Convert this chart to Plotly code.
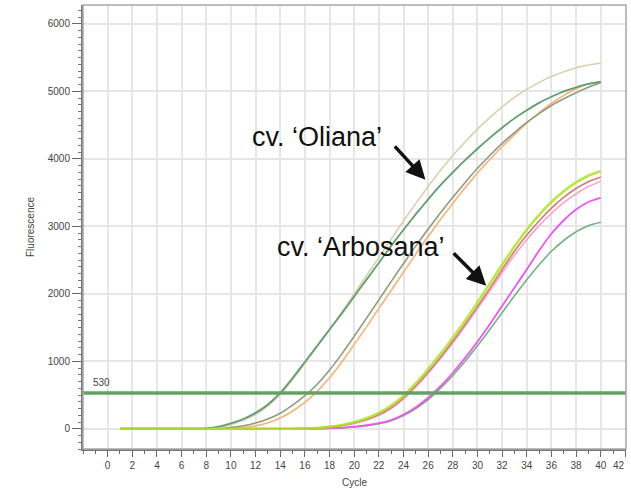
import plotly.graph_objects as go

cycles = list(range(1, 41))

oliana_beige = [0, 0, 0, 0, 0, 0, 0, 0, 15, 60, 125, 210, 340, 510, 730, 970, 1220, 1470, 1730, 2000,
                2270, 2540, 2810, 3080, 3340, 3590, 3830, 4050, 4250, 4440, 4610, 4770, 4910, 5030, 5130, 5220, 5290, 5350, 5390, 5420]
oliana_dkgreen = [0, 0, 0, 0, 0, 0, 0, 5, 30, 80, 145, 235, 360, 530, 750, 990, 1230, 1470, 1710, 1960,
                  2210, 2460, 2710, 2950, 3180, 3400, 3610, 3800, 3980, 4150, 4310, 4460, 4600, 4720, 4830, 4920, 5000, 5060, 5110, 5140]
oliana_graygreen = [0, 0, 0, 0, 0, 0, 0, 0, 0, 20, 45, 85, 145, 230, 350, 490, 660, 870, 1110, 1370,
                    1640, 1910, 2180, 2450, 2710, 2960, 3200, 3430, 3650, 3860, 4050, 4230, 4390, 4540, 4670, 4790, 4890, 4980, 5060, 5130]
oliana_orange = [0, 0, 0, 0, 0, 0, 0, 0, 0, 5, 20, 45, 90, 160, 260, 390, 555, 755, 990, 1250,
                 1510, 1780, 2050, 2320, 2590, 2850, 3100, 3340, 3570, 3790, 3990, 4180, 4360, 4530, 4680, 4820, 4940, 5040, 5110, 5150]

arbo_lime = [0, 0, 0, 0, 0, 0, 0, 0, 0, 0, 0, 0, 0, 0, 0, 5, 12, 28, 55, 95,
             155, 235, 345, 490, 675, 885, 1110, 1350, 1600, 1870, 2150, 2430, 2700, 2950, 3170, 3360, 3520, 3650, 3750, 3820]
arbo_red = [0, 0, 0, 0, 0, 0, 0, 0, 0, 0, 0, 0, 0, 0, 0, 3, 10, 24, 48, 85,
            138, 212, 315, 460, 640, 840, 1060, 1300, 1550, 1810, 2080, 2360, 2630, 2870, 3080, 3270, 3430, 3560, 3660, 3730]
arbo_pink = [0, 0, 0, 0, 0, 0, 0, 0, 0, 0, 0, 0, 0, 0, 0, 3, 9, 22, 45, 80,
             130, 200, 300, 440, 620, 820, 1040, 1270, 1520, 1780, 2040, 2310, 2570, 2800, 3010, 3190, 3350, 3480, 3590, 3670]
arbo_magenta = [0, 0, 0, 0, 0, 0, 0, 0, 0, 0, 0, 0, 0, 0, 0, 0, 3, 8, 18, 32,
                52, 82, 130, 210, 320, 460, 630, 830, 1050, 1290, 1550, 1820, 2090, 2360, 2640, 2890, 3090, 3250, 3360, 3420]
arbo_green = [0, 0, 0, 0, 0, 0, 0, 0, 0, 0, 0, 0, 0, 0, 0, 0, 0, 5, 12, 25,
              45, 75, 120, 195, 300, 430, 600, 790, 1000, 1230, 1470, 1720, 1970, 2210, 2430, 2630, 2790, 2920, 3010, 3060]

threshold = 530
x_ticks = list(range(0, 43, 2))
y_ticks = [0, 1000, 2000, 3000, 4000, 5000, 6000]

series = [
    ("Arbosana green", arbo_green, "#72b283", 1.6),
    ("Arbosana magenta", arbo_magenta, "#ee55ee", 1.8),
    ("Arbosana pink", arbo_pink, "#f2a6c8", 1.6),
    ("Arbosana red", arbo_red, "#d9787a", 1.6),
    ("Oliana orange", oliana_orange, "#f8b274", 1.6),
    ("Oliana gray-green", oliana_graygreen, "#8e9c82", 1.6),
    ("Oliana beige", oliana_beige, "#d9d0aa", 1.6),
    ("Oliana dark green", oliana_dkgreen, "#5f9e6f", 1.8),
    ("Arbosana lime", arbo_lime, "rgba(172,228,30,0.85)", 2.6),
]

fig = go.Figure()
for name, vals, color, w in series:
    fig.add_trace(go.Scatter(x=cycles, y=vals, mode="lines", name=name,
                             line=dict(color=color, width=w, shape="spline", smoothing=0.6),
                             showlegend=False, hoverinfo="skip"))

fig.add_shape(type="line", xref="paper", x0=0, x1=1, yref="y", y0=threshold, y1=threshold,
              line=dict(color="#64a064", width=3.5), layer="above")

font_family = "Liberation Sans, Arial, sans-serif"

fig.add_annotation(x=-1.35, y=threshold + 150, xref="x", yref="y", text=str(threshold),
                   showarrow=False, xanchor="left", yanchor="middle",
                   font=dict(family=font_family, size=10, color="#444444"))

fig.add_annotation(x=11.55, y=4320, xref="x", yref="y", text="cv. \u2018Oliana\u2019",
                   showarrow=False, xanchor="left", yanchor="middle",
                   font=dict(family=font_family, size=27, color="#111111"))
fig.add_annotation(x=13.55, y=2700, xref="x", yref="y", text="cv. \u2018Arbosana\u2019",
                   showarrow=False, xanchor="left", yanchor="middle",
                   font=dict(family=font_family, size=27, color="#111111"))

fig.add_annotation(x=25.78, y=3689, xref="x", yref="y", text="", showarrow=True,
                   ax=-32, ay=-35, arrowhead=2, arrowsize=1.1, arrowwidth=3.5, arrowcolor="#111111")
fig.add_annotation(x=30.71, y=2119, xref="x", yref="y", text="", showarrow=True,
                   ax=-34, ay=-34, arrowhead=2, arrowsize=1.1, arrowwidth=3.5, arrowcolor="#111111")

# last x tick label, which Plotly drops at the figure edge
fig.add_annotation(x=x_ticks[-1], y=-(465 - 449) / 444, xref="x", yref="paper", text=str(x_ticks[-1]),
                   showarrow=False, xanchor="right", yanchor="middle", xshift=2,
                   font=dict(family=font_family, size=10, color="#444444"))

fig.add_annotation(x=(30 - 83) / 543, y=0.5, xref="paper", yref="paper", text="Fluorescence",
                   showarrow=False, textangle=-90, xanchor="center", yanchor="middle",
                   font=dict(family=font_family, size=10, color="#444444"))
fig.add_annotation(x=0.5, y=-(483 - 449) / 444, xref="paper", yref="paper", text="Cycle",
                   showarrow=False, xanchor="center", yanchor="middle",
                   font=dict(family=font_family, size=10, color="#444444"))

fig.add_shape(type="rect", xref="paper", yref="paper", x0=0, x1=1, y0=0, y1=1,
              line=dict(color="#a8a8a8", width=1.5), layer="above")

fig.update_layout(
    width=631, height=491,
    margin=dict(l=83, r=5, t=5, b=42),
    paper_bgcolor="white", plot_bgcolor="white",
    font=dict(family=font_family, size=10, color="#444444"),
    xaxis=dict(range=[-2, 42.05], tickvals=x_ticks, ticktext=[str(v) for v in x_ticks],
               showgrid=True, gridcolor="#e6e6e6", gridwidth=1.5,
               ticks="outside", ticklen=6, tickwidth=1, tickcolor="#666666",
               minor=dict(dtick=1, tick0=0, ticks="outside", ticklen=3, tickcolor="#666666", showgrid=False),
               showline=True, linecolor="#777777", linewidth=2, zeroline=False,
               tickfont=dict(size=10, color="#444444")),
    yaxis=dict(range=[-300, 6280], tickvals=y_ticks, ticktext=[str(v) for v in y_ticks],
               showgrid=True, gridcolor="#e6e6e6", gridwidth=1.5,
               ticks="outside", ticklen=9, tickwidth=1, tickcolor="#666666",
               minor=dict(dtick=100, tick0=0, ticks="outside", ticklen=3, tickcolor="#777777", showgrid=False),
               showline=True, linecolor="#777777", linewidth=2, zeroline=False,
               tickfont=dict(size=10, color="#444444")),
)

fig.write_html("out.html", config={"displayModeBar": False},
               post_script="document.body.style.margin='0';document.body.style.overflow='hidden';")
